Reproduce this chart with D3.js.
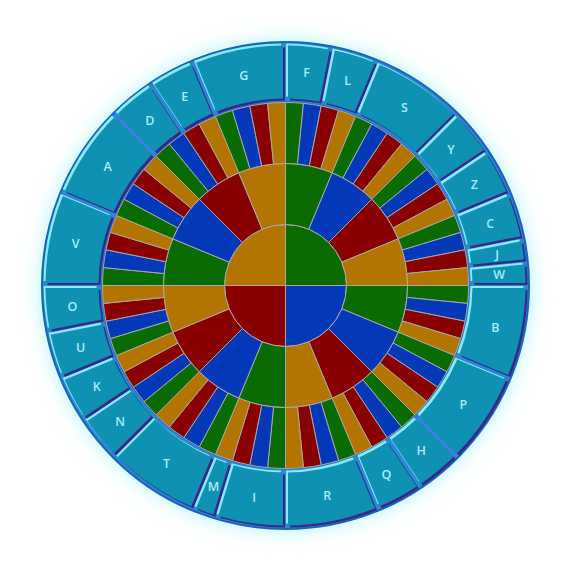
<!DOCTYPE html>
<html>
<head>
<meta charset="utf-8">
<script src="https://cdn.jsdelivr.net/npm/d3@7/dist/d3.min.js"></script>
<style>
  html, body { margin: 0; padding: 0; background: #ffffff; }
  svg { display: block; }
</style>
</head>
<body>
<svg id="chart" width="571" height="571"></svg>
<script>
// ---- data ----
const levelColors = ["#0a6b00", "#0339b8", "#880000", "#b37400"];
const level1 = [1, 1, 1, 1];                       // 4 quadrants
const level2 = d3.range(16).map(() => 1);          // 16 equal segments
const level3 = d3.range(64).map(() => 1);          // 64 equal segments
const outerLabels = ["F","L","S","Y","Z","C","J","W","B","P","H","Q","R","I","M","T","N","K","U","O","V","A","D","E","G"];
const outerSpans  = [ 2,  2,  4,  2,  2,  2,  1,  1,  4,  4,  2,  2,  4,  3,  1,  4,  2,  2,  2,  2,  4,  4,  2,  2,  4 ];

// ---- layout ----
const W = 571, H = 571, cx = 285.5, cy = 285.5;
const step = 61;
const svg = d3.select("#chart");
const defs = svg.append("defs");
const glow = defs.append("filter").attr("id", "glow")
  .attr("x", "-20%").attr("y", "-20%").attr("width", "140%").attr("height", "140%");
glow.append("feGaussianBlur").attr("stdDeviation", 9);

const g = svg.append("g").attr("transform", `translate(${cx},${cy})`);
const pie = d3.pie().sort(null).value(d => d);

// glow
g.append("circle").attr("r", 246).attr("fill", "#b8f6ff").attr("filter", "url(#glow)");

// outer blue band
g.append("path")
  .attr("d", d3.arc()({innerRadius: 3 * step, outerRadius: 4 * step - 0.5, startAngle: 0, endAngle: 2 * Math.PI}))
  .attr("fill", "#2b86d6").attr("stroke", "#1963b8").attr("stroke-width", 2);

// inner rings
[level1, level2, level3].forEach((lvl, i) => {
  const arc = d3.arc().innerRadius(i * step).outerRadius((i + 1) * step);
  g.append("g").selectAll("path").data(pie(lvl)).join("path")
    .attr("d", arc)
    .attr("fill", (d, j) => levelColors[j % 4])
    .attr("stroke", "#a8a8a8").attr("stroke-width", 1);
});

// outer labelled ring with bevel
const outerArc = d3.arc().innerRadius(3 * step + 4).outerRadius(4 * step - 4).padAngle(0.024).padRadius(210);
const outer = pie(outerSpans);
const og = g.append("g");
const seg = og.selectAll("g").data(outer).join("g");
seg.append("path").attr("d", outerArc).attr("fill", "#86ecf8").attr("transform", "translate(-2,-2)");
seg.append("path").attr("d", outerArc).attr("fill", "#3a2686").attr("transform", "translate(2,2)");
seg.append("path").attr("d", outerArc).attr("fill", "#0e91b3");

const labelArc = d3.arc().innerRadius(214).outerRadius(214);
seg.append("text")
  .attr("transform", d => `translate(${labelArc.centroid(d)})`)
  .attr("text-anchor", "middle").attr("dominant-baseline", "central")
  .attr("font-family", "'Open Sans', sans-serif").attr("font-weight", 600).attr("font-size", 12.5)
  .attr("fill", "#a8eef6")
  .text((d, i) => outerLabels[i]);
</script>
</body>
</html>
